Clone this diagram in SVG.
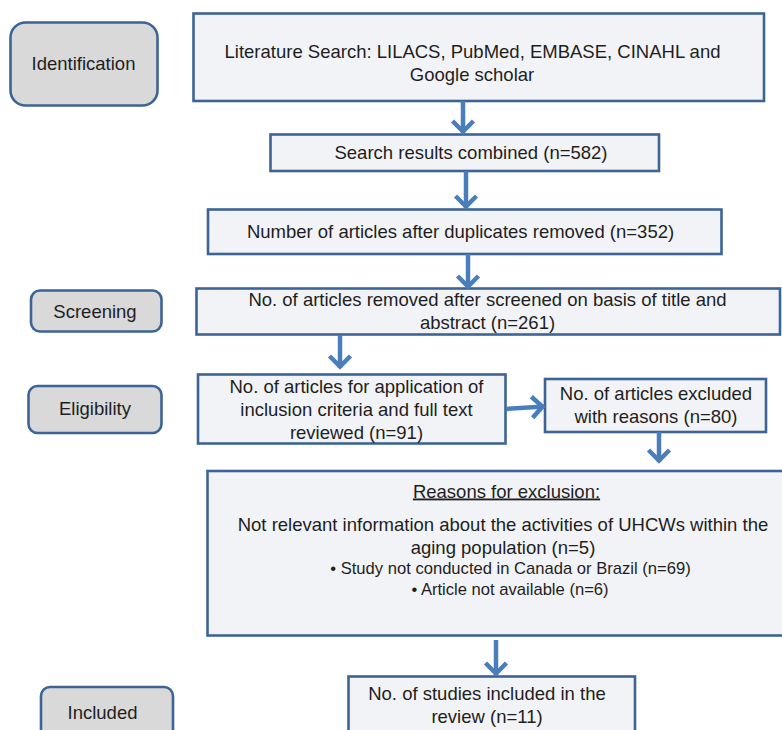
<svg xmlns="http://www.w3.org/2000/svg" width="782" height="730" viewBox="0 0 782 730">
<style>
.box{fill:#f2f3f6;stroke:#3c6494;stroke-width:2.6}
.stage{fill:#d9d9d9;stroke:#3c6494;stroke-width:2.6}
text{font-family:"Liberation Sans",Arial,Helvetica,sans-serif;font-size:18.5px;fill:#1e1e1e;text-anchor:middle}
.sm{font-size:16.6px}
.conn{stroke:#4a7ebb;stroke-width:4.5;fill:none}
</style>
<defs>
<marker id="ah" markerUnits="userSpaceOnUse" markerWidth="30" markerHeight="30" viewBox="-15 -15 30 30" refX="0" refY="0" orient="auto" overflow="visible">
<path d="M-12,-10.5 L-1.5,0 L-12,10.5" fill="none" stroke="#4a7ebb" stroke-width="4.5"/>
</marker>
</defs>
<rect width="782" height="730" fill="#ffffff"/>
<g id="identification">
<rect class="stage" x="10.5" y="22.5" width="147" height="83" rx="15"/>
<text x="83.5" y="69.5">Identification</text>
</g>
<g id="screening">
<rect class="stage" x="31" y="290.5" width="130.5" height="41" rx="9"/>
<text x="95" y="318">Screening</text>
</g>
<g id="eligibility">
<rect class="stage" x="28.5" y="386" width="133" height="47" rx="9"/>
<text x="95" y="415">Eligibility</text>
</g>
<g id="included">
<rect class="stage" x="41" y="687" width="132" height="60" rx="9"/>
<text x="102.5" y="719">Included</text>
</g>
<g id="literature">
<rect class="box" x="193.5" y="13.5" width="570.5" height="87.5"/>
<text x="472.5" y="57.5">Literature Search: LILACS, PubMed, EMBASE, CINAHL and</text>
<text x="472" y="81">Google scholar</text>
</g>
<g id="combined">
<rect class="box" x="270.5" y="134.5" width="388.5" height="36.5"/>
<text x="471" y="159">Search results combined (n=582)</text>
</g>
<g id="duplicates">
<rect class="box" x="208" y="209.5" width="513.5" height="44.5"/>
<text x="460.5" y="238">Number of articles after duplicates removed (n=352)</text>
</g>
<g id="removed">
<rect class="box" x="196.5" y="288.5" width="583.5" height="46"/>
<text x="487.5" y="305.5">No. of articles removed after screened on basis of title and</text>
<text x="487.5" y="328.5">abstract (n=261)</text>
</g>
<g id="fulltext">
<rect class="box" x="198" y="374.5" width="307.5" height="69"/>
<text x="356.5" y="392.5">No. of articles for application of</text>
<text x="356.5" y="415.5">inclusion criteria and full text</text>
<text x="356.5" y="438.5">reviewed (n=91)</text>
</g>
<g id="excluded">
<rect class="box" x="545" y="379" width="221" height="53"/>
<text x="656" y="400">No. of articles excluded</text>
<text x="656" y="423">with reasons (n=80)</text>
</g>
<g id="reasons">
<rect class="box" x="207.5" y="471" width="590" height="164.5"/>
<text x="506.5" y="497.5" text-decoration="underline">Reasons for exclusion:</text>
<text x="503" y="530.5">Not relevant information about the activities of UHCWs within the</text>
<text x="503" y="553.5">aging population (n=5)</text>
<text class="sm" x="510.5" y="573.5">• Study not conducted in Canada or Brazil (n=69)</text>
<text class="sm" x="510" y="594.5">• Article not available (n=6)</text>
</g>
<g id="studies">
<rect class="box" x="348.5" y="676.5" width="286.5" height="70"/>
<text x="487" y="700">No. of studies included in the</text>
<text x="487" y="723">review (n=11)</text>
</g>
<g id="connectors">
<path class="conn" d="M463,101 V133" marker-end="url(#ah)"/>
<path class="conn" d="M466,171 V208" marker-end="url(#ah)"/>
<path class="conn" d="M468,254 V288" marker-end="url(#ah)"/>
<path class="conn" d="M340,335 V368" marker-end="url(#ah)"/>
<path class="conn" d="M506,409 L544,406.5" marker-end="url(#ah)"/>
<path class="conn" d="M659,432 V462" marker-end="url(#ah)"/>
<path class="conn" d="M496,640 V675" marker-end="url(#ah)"/>
</g>
</svg>
